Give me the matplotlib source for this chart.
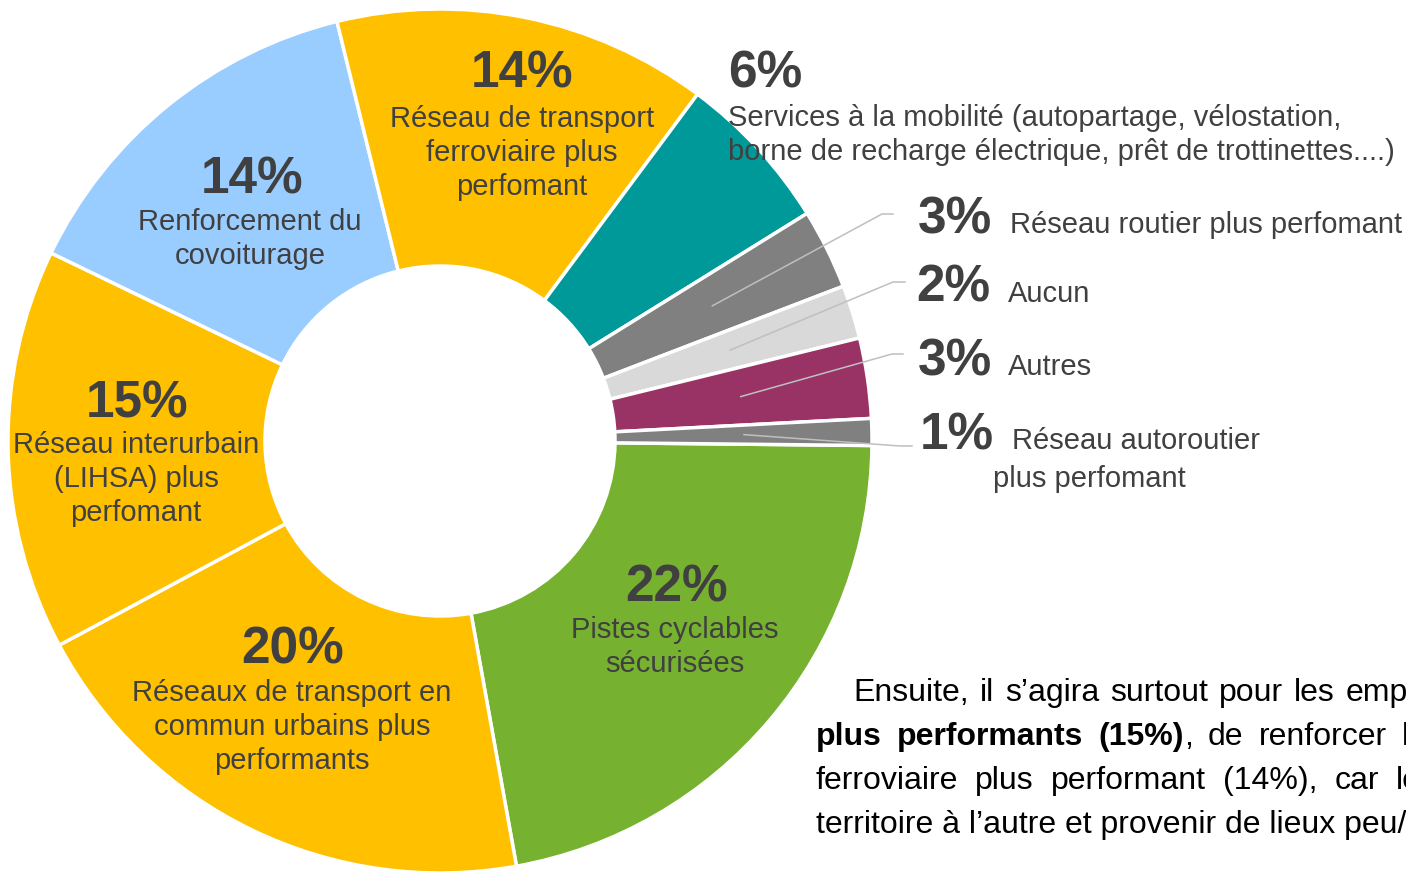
import matplotlib
matplotlib.use('Agg')
import matplotlib.pyplot as plt
import numpy as np

W, H = 1406, 873
FONT = 'Liberation Sans'
DARK = '#404040'

# Data: shares of answers, listed clockwise starting at 3 o'clock
categories = [
    'Pistes cyclables\nsécurisées',
    'Réseaux de transport en\ncommun urbains plus\nperformants',
    'Réseau interurbain\n(LIHSA) plus\nperfomant',
    'Renforcement du\ncovoiturage',
    'Réseau de transport\nferroviaire plus\nperfomant',
    'Services à la mobilité (autopartage, vélostation,\nborne de recharge électrique, prêt de trottinettes....)',
    'Réseau routier plus perfomant',
    'Aucun',
    'Autres',
    'Réseau autoroutier\nplus perfomant',
]
shares = [22, 20, 15, 14, 14, 6, 3, 2, 3, 1]

colors = ['#76B12F', '#FFC000', '#FFC000', '#99CCFF', '#FFC000',
          '#009999', '#808080', '#D9D9D9', '#993366', '#808080']

# label layout in image pixels (y from top): pct x, pct baseline, align, text x per line, first text baseline, line gap
label_layout = [
    (677, 601, 'center', [675], 638, 34),
    (293, 664, 'center', [292], 701, 34),
    (137, 418, 'center', [136], 453, 34),
    (252, 193, 'center', [250], 230, 34),
    (522, 88, 'center', [522], 127, 34),
    (728, 88, 'left', [728], 126, 34),
    (918, 233, 'left', [1010], 233, 38),
    (916, 302, 'left', [1008], 302, 38),
    (918, 375, 'left', [1008], 375, 38),
    (920, 449, 'left', [1012, 993], 449, 38),
]
# leader lines for the small slices: elbow and end point (image pixels)
leaders = {6: [(882, 214), (893, 214)],
           7: [(893, 282), (905, 282)],
           8: [(892, 354), (903, 354)],
           9: [(900, 446), (912, 446)]}

fig = plt.figure(figsize=(W / 100, H / 100), dpi=100)
ax = fig.add_axes([0, 0, 1, 1])

cx, cy = 440, H - 441
wedges, _ = ax.pie(shares, colors=colors, startangle=-0.6, counterclock=False,
                   radius=432, center=(cx, cy),
                   wedgeprops=dict(width=257, edgecolor='white', linewidth=2.5))
ax.set_xlim(0, W)
ax.set_ylim(0, H)
ax.set_aspect('equal')
ax.axis('off')

# leader lines start inside the wedge at its middle angle
for i, pts in leaders.items():
    mid = np.deg2rad((wedges[i].theta1 + wedges[i].theta2) / 2)
    xs = [cx + 304 * np.cos(mid)] + [p[0] for p in pts]
    ys = [cy + 304 * np.sin(mid)] + [H - p[1] for p in pts]
    ax.plot(xs, ys, color='#BFBFBF', lw=1.1)

for i, (px, py, ha, tx, ty, gap) in enumerate(label_layout):
    ax.text(px, H - py, f'{shares[i]}%', ha=ha, va='baseline', fontsize=37,
            fontweight='bold', color=DARK, family=FONT)
    for k, line in enumerate(categories[i].split('\n')):
        x = tx[k] if k < len(tx) else tx[0]
        ax.text(x, H - (ty + k * gap), line, ha=ha, va='baseline', fontsize=21,
                color=DARK, family=FONT)

# body text of the report, cut by the right edge
BODY = 23
renderer = fig.canvas.get_renderer()


def seg_width(s, wt):
    t = ax.text(0, 0, s, fontsize=BODY, fontweight=wt, family=FONT)
    w = t.get_window_extent(renderer).width
    t.remove()
    return w


def justified(words, x0, x_last, y):
    widths = [sum(seg_width(s, wt) for s, wt in segs) for segs in words]
    gap = (x_last - x0 - sum(widths[:-1])) / (len(words) - 1)
    x = x0
    for segs, w in zip(words, widths):
        xx = x
        for s, wt in segs:
            ax.text(xx, H - y, s, fontsize=BODY, fontweight=wt, family=FONT,
                    color='black', va='baseline')
            xx += seg_width(s, wt)
        x += w + gap


def plain(s):
    return [[(w, 'normal')] for w in s.split()]


justified(plain('Ensuite, il s’agira surtout pour les employés'), 853, 1346, 701)
justified([[('plus', 'bold')], [('performants', 'bold')],
           [('(15%)', 'bold'), (',', 'normal')], [('de', 'normal')],
           [('renforcer', 'normal')], [('le', 'normal')]], 816, 1402, 745)
justified(plain('ferroviaire plus performant (14%), car le'), 816, 1396, 789)
ax.text(816, H - 833, 'territoire à l’autre et provenir de lieux peu/', fontsize=BODY,
        family=FONT, color='black', va='baseline')

fig.savefig('out.png', dpi=100)
